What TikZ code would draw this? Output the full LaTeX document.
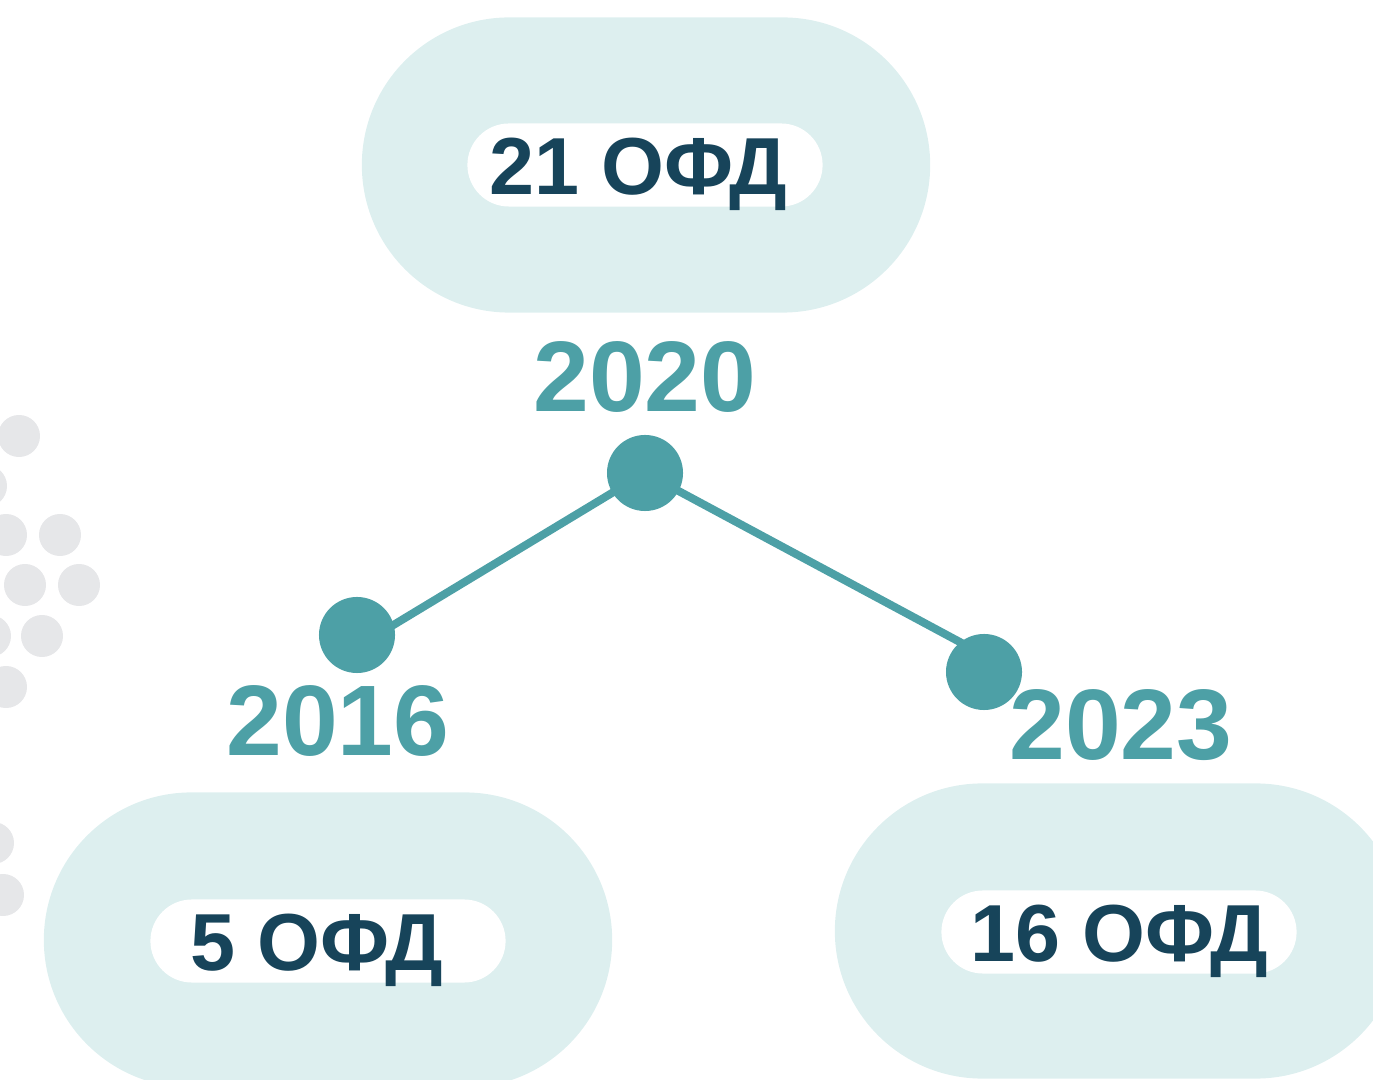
\documentclass[tikz,border=0pt]{standalone}
\usepackage{fontspec}
\setmainfont{Liberation Sans}
\usepackage{tikz}
\usetikzlibrary{positioning}
\definecolor{teal1}{HTML}{4DA0A6}
\definecolor{pale}{HTML}{DDEFEF}
\definecolor{navy}{HTML}{17445A}
\definecolor{dotgrey}{HTML}{E6E7E9}

\begin{document}
\begin{tikzpicture}[
                x = 0.01cm, y = -0.01cm, % pixel grid
                line width=0.08cm, % line style
                font=\bfseries
                ]
                \tikzstyle{year}=[
                    text = teal1,
                    font = \fontsize{28.5}{30}\selectfont\bfseries,
                    inner sep = 0pt,
                ]
                \tikzstyle{milestone}=[
                    circle,
                    fill = teal1,
                    minimum size = 0.76cm,
                    inner sep = 0pt,
                ]
                \tikzstyle{cloud}=[
                    fill = pale,
                    rounded corners = 1.475cm,
                    minimum width = 5.68cm,
                    minimum height = 2.95cm,
                ]
                \tikzstyle{count}=[
                    fill = white,
                    text = navy,
                    rounded corners = 0.415cm,
                    minimum width = 3.55cm,
                    minimum height = 0.83cm,
                    text height = 0.58cm,
                    text depth = 0pt,
                    inner sep = 0pt,
                    font = \fontsize{23}{25}\selectfont\bfseries,
                ]
                \useasboundingbox (0,0) rectangle (1373,1080);
                \clip (0,0) rectangle (1373,1080);

                % grey dots on the left edge
                \foreach \gx/\gy in {19/436, -14/486, 6/535, 60/535, 25/585,
                    79/585, -10/636, 42/636, 6/687, -7/843, 3/895}
                    \fill[dotgrey] (\gx,\gy) circle (0.21cm);

                \node[cloud] (c20) at (646,165) {};
                \node[cloud] (c16) at (328,940) {};
                \node[cloud] (c23) at (1119,931) {};

                \node[count] (n20) at (645,165) {\hspace*{-0.14cm}21 ОФД};
                \node[count] (n16) at (328,941) {\hspace*{-0.22cm}5 ОФД};
                \node[count] (n23) at (1119,932) {16 ОФД};

                \node[milestone] (m20) at (645,473) {};
                \node[milestone] (m16) at (357,635) {};
                \node[milestone] (m23) at (984,672) {};

                \draw[teal1] (m20.center) -- ([yshift=-0.12cm]m16.center);
                \draw[teal1] (m20.center) -- ([yshift=0.17cm]m23.center);

                \node[year] (y20) [above=0.14cm of m20] {2020};
                \node[year] (y16) at (338,721) {2016};
                \node[year] (y23) at (1121,725) {2023};
            \end{tikzpicture}
\end{document}
